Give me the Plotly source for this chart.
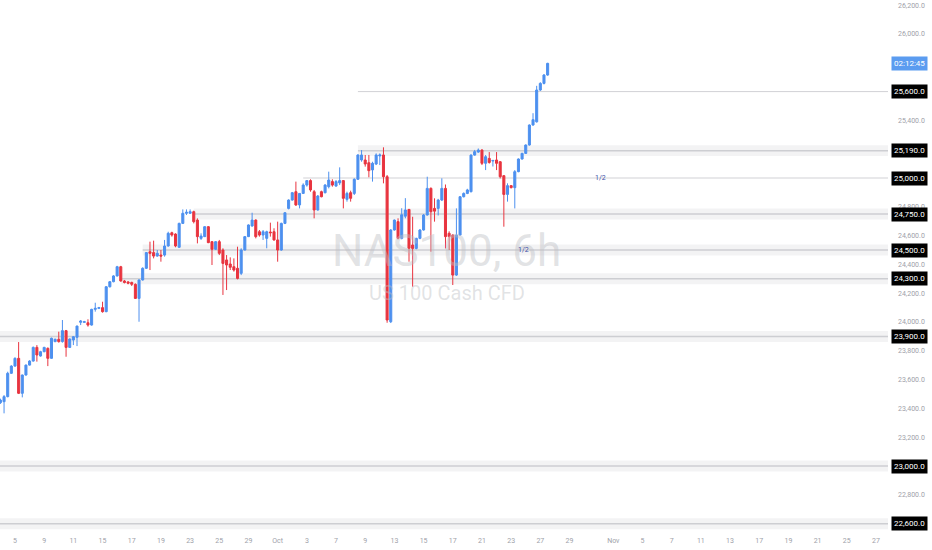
import plotly.graph_objects as go

# ---------------- data (6h bars, NAS100) ----------------
bar_index = list(range(151))
open_ = [23440,23447,23482,23644,23694,23748,23505,23632,23701,23729,
         23824,23764,23794,23817,23748,23864,23880,23864,23940,23824,
         23875,23894,23998,23998,23995,23979,24088,24095,24100,24072,
         24245,24280,24320,24384,24285,24278,24275,24262,24164,24292,
         24373,24488,24482,24458,24465,24465,24528,24620,24611,24519,
         24685,24755,24755,24766,24708,24581,24593,24662,24558,24505,
         24558,24500,24431,24403,24384,24373,24338,24500,24593,24667,
         24708,24627,24604,24581,24625,24627,24570,24500,24685,24789,
         24847,24905,24813,24893,24951,24982,24905,24778,24905,24898,
         24940,24975,24944,24966,24982,24852,24898,24893,24991,25125,
         25125,25106,25056,25097,25153,25160,25009,24002,24639,24697,
         24581,24735,24782,24535,24511,24581,24639,24743,24928,24789,
         24789,24847,24928,24616,24604,24326,24604,24870,24893,24905,
         25159,25180,25194,25102,25136,25118,25125,25113,25016,24886,
         24947,24933,25044,25132,25171,25229,25368,25390,25611,25657,
         25715]
high = [23468,23493,23655,23700,23755,23861,23635,23705,23735,23830,
        23840,23800,23828,23824,23892,23885,23933,24014,23945,23886,
        23903,23975,24014,24008,24019,24092,24134,24105,24141,24250,
        24285,24325,24390,24390,24292,24285,24280,24268,24296,24380,
        24486,24558,24565,24500,24500,24570,24627,24627,24616,24690,
        24782,24782,24782,24773,24720,24616,24666,24666,24560,24562,
        24570,24512,24465,24449,24442,24523,24512,24597,24678,24759,
        24713,24639,24639,24634,24690,24651,24697,24690,24762,24852,
        24903,24975,24895,24963,24986,24991,24917,24882,24912,24958,
        25044,24991,24986,25074,24986,24905,24912,24998,25165,25194,
        25160,25160,25113,25171,25171,25213,25021,24645,24712,24720,
        24790,24860,24785,24731,24585,24645,24750,25009,24935,24859,
        24855,24998,24955,24630,24610,24789,24875,24900,24925,25165,
        25195,25205,25200,25160,25180,25125,25180,25118,25020,24963,
        24951,25055,25136,25175,25233,25372,25450,25640,25665,25722,
        25800]
low = [23431,23366,23477,23640,23690,23500,23477,23628,23698,23725,
       23725,23760,23790,23694,23745,23860,23857,23857,23759,23820,
       23840,23833,23979,23995,23968,23975,24072,24090,24065,24068,
       24240,24276,24316,24280,24268,24262,24250,24160,24002,24288,
       24368,24361,24442,24454,24419,24454,24523,24593,24519,24515,
       24681,24743,24750,24685,24546,24570,24590,24548,24396,24500,
       24465,24188,24222,24361,24350,24296,24326,24497,24590,24662,
       24581,24593,24570,24512,24593,24565,24419,24495,24680,24782,
       24843,24806,24789,24889,24940,24905,24720,24773,24866,24893,
       24928,24940,24940,24951,24789,24836,24836,24882,24988,25113,
       25079,25005,24975,25090,25090,24963,23995,23993,24635,24574,
       24574,24720,24419,24245,24505,24575,24635,24740,24488,24697,
       24740,24840,24511,24500,24257,24320,24600,24865,24888,24900,
       25155,25175,25090,25055,25100,25080,25055,24997,24662,24836,
       24928,24789,25040,25128,25167,25225,25363,25385,25605,25650,
       25710]
close = [23458,23482,23644,23694,23748,23505,23632,23701,23729,23824,
         23771,23794,23824,23748,23887,23880,23864,23940,23824,23882,
         23898,23972,24007,24002,23979,24088,24095,24100,24072,24245,
         24280,24320,24384,24285,24275,24270,24262,24164,24292,24373,
         24482,24477,24458,24477,24458,24528,24616,24604,24528,24685,
         24755,24762,24766,24697,24593,24597,24662,24551,24505,24558,
         24477,24407,24396,24380,24361,24303,24500,24593,24674,24708,
         24593,24604,24627,24627,24620,24570,24500,24685,24759,24847,
         24898,24813,24893,24951,24982,24917,24778,24875,24870,24951,
         24986,24951,24975,24982,24859,24893,24859,24991,25160,25160,
         25097,25051,25102,25160,25160,25009,24014,24639,24708,24581,
         24745,24778,24512,24511,24581,24639,24743,24928,24766,24770,
         24847,24928,24593,24593,24326,24604,24870,24893,24917,25159,
         25183,25194,25102,25148,25108,25122,25102,25009,24886,24947,
         24933,25044,25132,25171,25229,25368,25405,25611,25657,25715,
         25796]

# x-axis labels (bar index of the first bar of each labelled day)
tick_index = [4, 12, 20, 28, 36, 44, 52, 60, 68, 76, 84, 92, 100, 108, 116,
              124, 132, 140, 148, 156, 168, 176, 184, 192, 200, 208, 216, 224, 232, 240]
tick_text = ["5", "9", "11", "15", "17", "19", "23", "25", "29", "Oct", "3", "7", "9", "13", "15",
             "17", "21", "23", "27", "29", "Nov", "5", "7", "11", "13", "17", "19", "21", "25", "27"]

# price axis ticks
price_ticks = [22600, 22800, 23000, 23200, 23400, 23600, 23800, 24000, 24200,
               24400, 24600, 24800, 25000, 25200, 25400, 25600, 25800, 26000, 26200]

# horizontal zones (price level, bar index where drawn from)
zone_levels = [25190, 24750, 24500, 24300, 23900, 23000, 22600]
zone_start = [98, 53, 39, 33, -1, -1, -1]
line_levels = [25600, 25000]
line_start = [98, 83]
label_levels = [25600, 25190, 25000, 24750, 24500, 24300, 23900, 23000, 22600]
half_marks = [(164.4, 25000), (143.5, 24500)]
last_price = 25796
countdown = "02:12:45"

X_MIN, X_MAX = -0.11, 243.3
Y_MIN, Y_MAX = 22556, 26236

BLUE = "#4d90ef"
RED = "#e8343f"

fig = go.Figure()
fig.add_trace(go.Candlestick(
    x=bar_index, open=open_, high=high, low=low, close=close,
    increasing=dict(line=dict(color=BLUE, width=1), fillcolor=BLUE),
    decreasing=dict(line=dict(color=RED, width=1), fillcolor=RED),
    whiskerwidth=0, hoverinfo="skip", showlegend=False,
))

shapes = []
for lvl, xs in zip(zone_levels, zone_start):
    shapes.append(dict(type="rect", xref="x", yref="y", x0=xs, x1=X_MAX,
                       y0=lvl - 38, y1=lvl + 38, layer="below",
                       fillcolor="rgba(120,123,134,0.09)",
                       line=dict(width=0)))
    shapes.append(dict(type="line", xref="x", yref="y", x0=xs, x1=X_MAX,
                       y0=lvl, y1=lvl, layer="below",
                       line=dict(color="rgba(120,123,134,0.30)", width=1.5)))
for lvl, xs in zip(line_levels, line_start):
    shapes.append(dict(type="line", xref="x", yref="y", x0=xs, x1=X_MAX,
                       y0=lvl, y1=lvl, layer="below",
                       line=dict(color="rgba(120,123,134,0.35)", width=1)))

WM = "rgba(190,191,196,0.45)"
annotations = [
    dict(text="NAS100, 6h", x=0.503, y=24490, xref="paper", yref="y",
         showarrow=False, font=dict(family="Roboto", size=44, color=WM)),
    dict(text="US 100 Cash CFD", x=0.503, y=24205, xref="paper", yref="y",
         showarrow=False, font=dict(family="Roboto", size=20, color=WM)),
]
for xi, lvl in half_marks:
    annotations.append(dict(text="1/2", x=xi, y=lvl, xref="x", yref="y", showarrow=False,
                            font=dict(family="Roboto", size=7, color="#3d4fa8")))
for lvl in label_levels:
    annotations.append(dict(text=f"{lvl:,.1f}", x=1, y=lvl, xref="paper", yref="y",
                            xanchor="left", xshift=3, showarrow=False, bgcolor="#000000",
                            borderpad=2, font=dict(family="Roboto", size=8, color="#ffffff")))
annotations.append(dict(text=countdown, x=1, y=last_price, xref="paper", yref="y",
                        xanchor="left", xshift=3, showarrow=False, bgcolor="#5b9cf0",
                        borderpad=2, font=dict(family="Roboto", size=8, color="#ffffff")))

fig.update_layout(
    width=932, height=550,
    margin=dict(l=0, r=44, t=0, b=20),
    paper_bgcolor="white", plot_bgcolor="white",
    shapes=shapes, annotations=annotations,
    showlegend=False,
    xaxis=dict(range=[X_MIN, X_MAX], rangeslider=dict(visible=False),
               tickvals=tick_index, ticktext=tick_text, showgrid=False, zeroline=False,
               ticks="", showline=False, ticklabelstandoff=5,
               tickfont=dict(family="Roboto", size=7, color="#9ea1a9")),
    yaxis=dict(range=[Y_MIN, Y_MAX], side="right", tickvals=price_ticks,
               tickformat=",.1f", showgrid=False, zeroline=False, ticks="",
               showline=False, ticklabelstandoff=9,
               tickfont=dict(family="Roboto", size=7, color="#9ea1a9")),
    boxgap=0.2,
)

fig.write_html("out.html", config={"displayModeBar": False},
               post_script="document.body.style.margin='0px';")
